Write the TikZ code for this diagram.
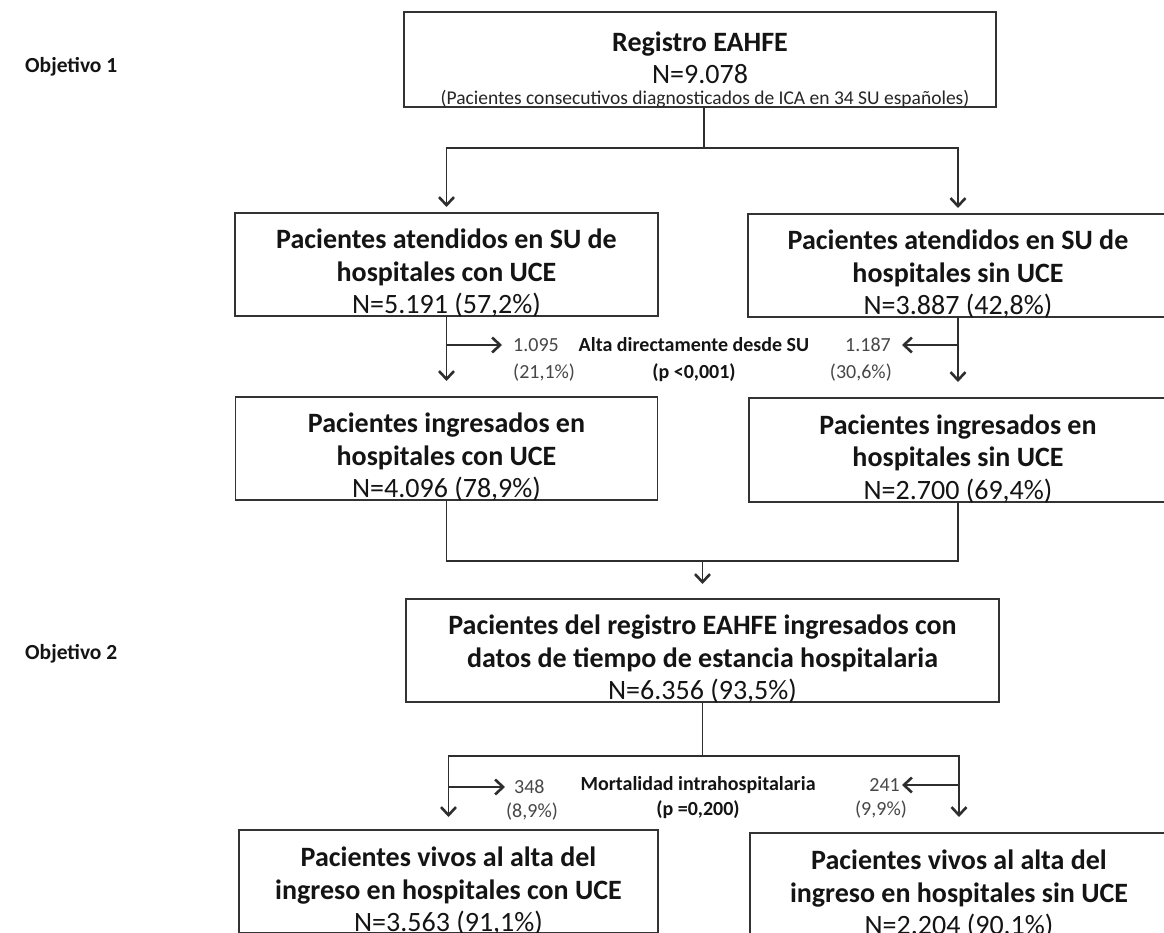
\documentclass[tikz,border=0pt]{standalone}
\usepackage{fontspec}
\setmainfont{Carlito}
\usetikzlibrary{arrows.meta}

\begin{document}
\begin{tikzpicture}[x=1pt,y=-1pt,
  frame/.style={draw=black!80, line width=1.7pt, inner sep=0pt, outer sep=0pt},
  boxtxt/.style={align=center, inner sep=0pt, text=black!92,
                 font=\fontsize{28}{32.5}\selectfont},
  goal/.style={anchor=west, inner sep=0pt, text=black!92,
               font=\bfseries\fontsize{21.5}{25}\selectfont},
  sidetxt/.style={inner sep=0pt, text=black!72, font=\fontsize{20}{24}\selectfont},
  midtxt/.style={inner sep=0pt, text=black!92, font=\bfseries\fontsize{20}{24}\selectfont},
  conn/.style={draw=black!82, line width=1.7pt},
  arr/.style={conn, -{Straight Barb[length=8pt,width=15pt,line width=2.6pt]}},
]
% page and crop
\path[use as bounding box] (0,0) rectangle (1164,933);
\fill[white] (0,0) rectangle (1164,933);
\clip (0,0) rectangle (1164,933);

% section titles
\node[goal] (g1) at (25,67) {Objetivo 1};
\node[goal] (g2) at (25,654) {Objetivo 2};

% boxes
\node[frame, minimum width=592pt, minimum height=95pt]  (top) at (700,59.5) {};
\node[frame, minimum width=423pt, minimum height=103pt] (b2l) at (446.5,264.5) {};
\node[frame, minimum width=420pt, minimum height=103pt] (b2r) at (958,265.5) {};
\node[frame, minimum width=422pt, minimum height=103pt] (b3l) at (446.5,448.5) {};
\node[frame, minimum width=418pt, minimum height=104pt] (b3r) at (958,450) {};
\node[frame, minimum width=593pt, minimum height=103pt] (b4)  at (702.5,650.5) {};
\node[frame, minimum width=419pt, minimum height=103pt] (b5l) at (448.5,881.5) {};
\node[frame, minimum width=418pt, minimum height=103pt] (b5r) at (959,884.5) {};

% box texts
\node[boxtxt] (t0) at (700,58) {\textbf{Registro EAHFE}\\N=9.078};
\node[inner sep=0pt, text=black!85, font=\fontsize{19.5}{22}\selectfont] (t0s) at (705,99)
  {(Pacientes consecutivos diagnosticados de ICA en 34 SU españoles)};
\node[boxtxt] (t2l) at ([yshift=-9pt]b2l.center)
  {\textbf{Pacientes atendidos en SU de}\\\textbf{hospitales con UCE}\\N=5.191 (57,2\%)};
\node[boxtxt] (t2r) at ([yshift=-9pt]b2r.center)
  {\textbf{Pacientes atendidos en SU de}\\\textbf{hospitales sin UCE}\\N=3.887 (42,8\%)};
\node[boxtxt] (t3l) at ([yshift=-9pt]b3l.center)
  {\textbf{Pacientes ingresados en}\\\textbf{hospitales con UCE}\\N=4.096 (78,9\%)};
\node[boxtxt] (t3r) at ([yshift=-9pt]b3r.center)
  {\textbf{Pacientes ingresados en}\\\textbf{hospitales sin UCE}\\N=2.700 (69,4\%)};
\node[boxtxt] (t4) at ([yshift=-9pt]b4.center)
  {\textbf{Pacientes del registro EAHFE ingresados con}\\\textbf{datos de tiempo de estancia hospitalaria}\\N=6.356 (93,5\%)};
\node[boxtxt] (t5l) at ([yshift=-10pt]b5l.center)
  {\textbf{Pacientes vivos al alta del}\\\textbf{ingreso en hospitales con UCE}\\N=3.563 (91,1\%)};
\node[boxtxt] (t5r) at ([yshift=-10pt]b5r.center)
  {\textbf{Pacientes vivos al alta del}\\\textbf{ingreso en hospitales sin UCE}\\N=2.204 (90,1\%)};

% side labels, first split
\node[sidetxt, anchor=west] (n1095) at (513,345) {1.095};
\node[sidetxt, anchor=west] (p1095) at (513,373) {(21,1\%)};
\node[sidetxt, anchor=east] (n1187) at (891,345) {1.187};
\node[sidetxt, anchor=east] (p1187) at (892,373) {(30,6\%)};
\node[midtxt] (alta) at (694,345) {Alta directamente desde SU};
\node[midtxt] (palta) at (694,373) {(p <0,001)};

% side labels, second split
\node[sidetxt, anchor=west] (n348) at (514,787) {348};
\node[sidetxt] (p348) at (532,812) {(8,9\%)};
\node[sidetxt, anchor=east] (n241) at (900,785) {241};
\node[sidetxt] (p241) at (881,810) {(9,9\%)};
\node[midtxt] (mort) at (698,785) {Mortalidad intrahospitalaria};
\node[midtxt] (pmort) at (698,810) {(p =0,200)};

% branch points
\coordinate (s1) at (704,148);
\coordinate (a1) at (446.5,345);
\coordinate (a2) at (958,345);
\coordinate (jn) at (702.5,561);
\coordinate (s2) at (702.5,756);
\coordinate (d1) at (448.5,787);
\coordinate (d2) at (959,785);

% top split
\draw[conn] (top.south -| s1) -- (s1);
\draw[arr, shorten >=6pt] (s1) -| (b2l.north);
\draw[arr, shorten >=6pt] (s1) -| (b2r.north);

% first stage
\draw[arr, shorten >=16pt] (b2l.south) -- (b3l.north);
\draw[arr, shorten >=16pt] (b2r.south) -- (b3r.north);
\draw[arr, shorten >=11pt] (a1) -- (n1095.west);
\draw[arr, shorten >=11pt] (a2) -- (n1187.east);

% merge
\draw[conn] (b3l.south) |- (jn) -| (b3r.south);
\draw[arr, shorten >=15pt] (jn) -- (b4.north);

% second split
\draw[conn] (b4.south) -- (s2);
\draw[arr, shorten >=13pt] (s2) -| (b5l.north);
\draw[arr, shorten >=16pt] (s2) -| (b5r.north);
\draw[arr, shorten >=9pt] (d1) -- (n348.west);
\draw[arr, shorten >=2pt] (d2) -- (n241.east);
\end{tikzpicture}
\end{document}
